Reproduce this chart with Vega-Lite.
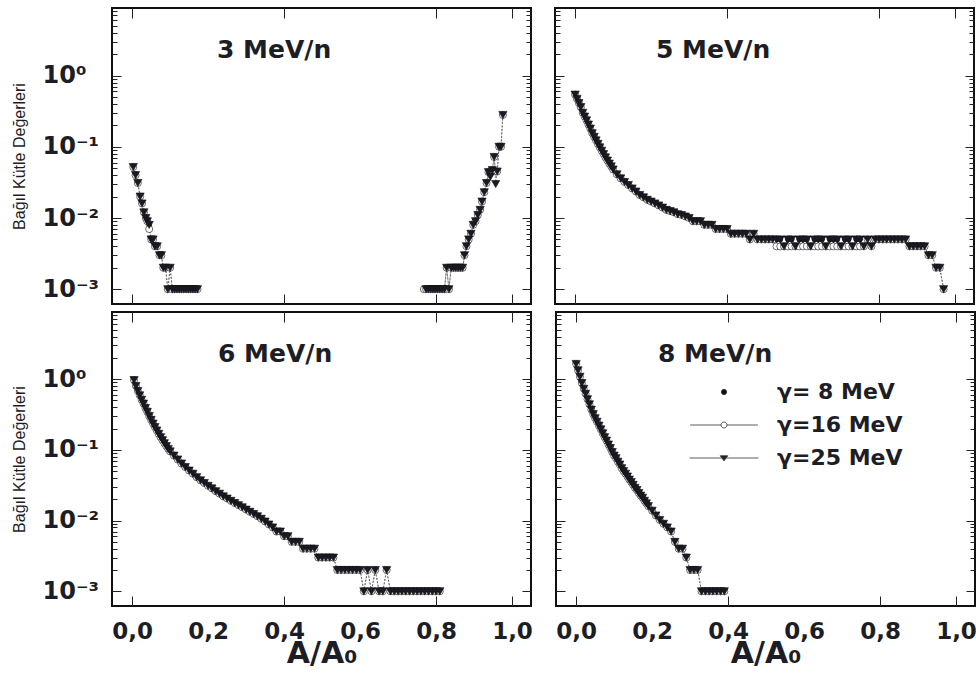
{
  "$schema": "https://vega.github.io/schema/vega-lite/v6.json",
  "padding": {"left": 10, "top": 6, "right": 0, "bottom": 2},
  "background": "white",
  "config": {
    "view": {"stroke": "#111", "strokeWidth": 2},
    "axis": {"domain": false, "grid": false, "tickColor": "#222", "tickWidth": 1},
    "font": "DejaVu Sans"
  },
  "datasets": {
    "d3": [
      {"g":"a","x":0.003,"s1":0.052,"s2":0.052,"s3":0.052},
      {"g":"a","x":0.009,"s1":0.040,"s2":0.040,"s3":0.040},
      {"g":"a","x":0.015,"s1":0.031,"s2":0.031,"s3":0.031},
      {"g":"a","x":0.021,"s1":0.020,"s2":0.020,"s3":0.020},
      {"g":"a","x":0.026,"s1":0.016,"s2":0.016,"s3":0.016},
      {"g":"a","x":0.031,"s1":0.012,"s2":0.012,"s3":0.012},
      {"g":"a","x":0.036,"s1":0.010,"s2":0.010,"s3":0.010},
      {"g":"a","x":0.040,"s1":0.009,"s2":0.009,"s3":0.009},
      {"g":"a","x":0.045,"s1":0.008,"s2":0.007,"s3":0.008},
      {"g":"a","x":0.050,"s1":0.005,"s2":0.005,"s3":0.005},
      {"g":"a","x":0.055,"s1":0.005,"s2":0.005,"s3":0.005},
      {"g":"a","x":0.060,"s1":0.004,"s2":0.004,"s3":0.004},
      {"g":"a","x":0.066,"s1":0.004,"s2":0.004,"s3":0.004},
      {"g":"a","x":0.072,"s1":0.003,"s2":0.003,"s3":0.003},
      {"g":"a","x":0.077,"s1":0.003,"s2":0.003,"s3":0.003},
      {"g":"a","x":0.082,"s1":0.002,"s2":0.002,"s3":0.002},
      {"g":"a","x":0.088,"s1":0.002,"s2":0.002,"s3":0.002},
      {"g":"a","x":0.094,"s1":0.001,"s2":0.001,"s3":0.001},
      {"g":"a","x":0.100,"s1":0.002,"s2":0.002,"s3":0.002},
      {"g":"a","x":0.106,"s1":0.001,"s2":0.001,"s3":0.001},
      {"g":"a","x":0.112,"s1":0.001,"s2":0.001,"s3":0.001},
      {"g":"a","x":0.118,"s1":0.001,"s2":0.001,"s3":0.001},
      {"g":"a","x":0.124,"s1":0.001,"s2":0.001,"s3":0.001},
      {"g":"a","x":0.130,"s1":0.001,"s2":0.001,"s3":0.001},
      {"g":"a","x":0.136,"s1":0.001,"s2":0.001,"s3":0.001},
      {"g":"a","x":0.142,"s1":0.001,"s2":0.001,"s3":0.001},
      {"g":"a","x":0.148,"s1":0.001,"s2":0.001,"s3":0.001},
      {"g":"a","x":0.154,"s1":0.001,"s2":0.001,"s3":0.001},
      {"g":"a","x":0.160,"s1":0.001,"s2":0.001,"s3":0.001},
      {"g":"a","x":0.166,"s1":0.001,"s2":0.001,"s3":0.001},
      {"g":"a","x":0.172,"s1":0.001,"s2":0.001,"s3":0.001},
      {"g":"b","x":0.768,"s2":0.001},
      {"g":"b","x":0.774,"s1":0.001,"s2":0.001,"s3":0.001},
      {"g":"b","x":0.780,"s1":0.001,"s2":0.001,"s3":0.001},
      {"g":"b","x":0.786,"s1":0.001,"s2":0.001,"s3":0.001},
      {"g":"b","x":0.792,"s1":0.001,"s2":0.001,"s3":0.001},
      {"g":"b","x":0.798,"s1":0.001,"s2":0.001,"s3":0.001},
      {"g":"b","x":0.804,"s1":0.001,"s2":0.001,"s3":0.001},
      {"g":"b","x":0.810,"s1":0.001,"s2":0.001,"s3":0.001},
      {"g":"b","x":0.816,"s1":0.001,"s2":0.001,"s3":0.001},
      {"g":"b","x":0.822,"s1":0.001,"s2":0.001,"s3":0.001},
      {"g":"b","x":0.828,"s1":0.002,"s2":0.002,"s3":0.002},
      {"g":"b","x":0.834,"s1":0.001,"s2":0.001,"s3":0.001},
      {"g":"b","x":0.840,"s1":0.002,"s2":0.002,"s3":0.002},
      {"g":"b","x":0.846,"s1":0.002,"s2":0.002,"s3":0.002},
      {"g":"b","x":0.852,"s1":0.002,"s2":0.002,"s3":0.002},
      {"g":"b","x":0.858,"s1":0.002,"s2":0.002,"s3":0.002},
      {"g":"b","x":0.864,"s1":0.002,"s2":0.002,"s3":0.002},
      {"g":"b","x":0.870,"s1":0.002,"s2":0.002,"s3":0.002},
      {"g":"b","x":0.875,"s1":0.003,"s2":0.003,"s3":0.003},
      {"g":"b","x":0.880,"s1":0.004,"s2":0.004,"s3":0.004},
      {"g":"b","x":0.886,"s1":0.005,"s2":0.005,"s3":0.005},
      {"g":"b","x":0.892,"s1":0.006,"s2":0.006,"s3":0.006},
      {"g":"b","x":0.898,"s1":0.008,"s2":0.008,"s3":0.008},
      {"g":"b","x":0.904,"s1":0.009,"s2":0.009,"s3":0.009},
      {"g":"b","x":0.910,"s1":0.011,"s2":0.011,"s3":0.011},
      {"g":"b","x":0.916,"s1":0.013,"s2":0.013,"s3":0.013},
      {"g":"b","x":0.921,"s1":0.017,"s2":0.017,"s3":0.017},
      {"g":"b","x":0.927,"s1":0.023,"s2":0.023,"s3":0.023},
      {"g":"b","x":0.933,"s1":0.031,"s2":0.031,"s3":0.031},
      {"g":"b","x":0.938,"s1":0.044,"s2":0.044,"s3":0.044},
      {"g":"b","x":0.943,"s1":0.044,"s2":0.044,"s3":0.038},
      {"g":"b","x":0.948,"s1":0.047,"s2":0.047,"s3":0.047},
      {"g":"b","x":0.953,"s1":0.072,"s2":0.072,"s3":0.072},
      {"g":"b","x":0.957,"s1":0.045,"s2":0.045,"s3":0.030},
      {"g":"b","x":0.961,"s1":0.045,"s2":0.045,"s3":0.045},
      {"g":"b","x":0.966,"s1":0.10,"s2":0.10,"s3":0.10},
      {"g":"b","x":0.971,"s1":0.10,"s2":0.10,"s3":0.10},
      {"g":"b","x":0.976,"s1":0.28,"s2":0.28,"s3":0.28}
    ],
    "d5": [
      {"x":0.000,"s1":0.54,"s2":0.54,"s3":0.54},
      {"x":0.005,"s1":0.47,"s2":0.47,"s3":0.47},
      {"x":0.010,"s1":0.41,"s2":0.41,"s3":0.41},
      {"x":0.015,"s1":0.36,"s2":0.36,"s3":0.36},
      {"x":0.020,"s1":0.30,"s2":0.30,"s3":0.30},
      {"x":0.025,"s1":0.265,"s2":0.265,"s3":0.265},
      {"x":0.030,"s1":0.235,"s2":0.235,"s3":0.235},
      {"x":0.035,"s1":0.205,"s2":0.205,"s3":0.205},
      {"x":0.040,"s1":0.18,"s2":0.18,"s3":0.18},
      {"x":0.045,"s1":0.155,"s2":0.155,"s3":0.155},
      {"x":0.050,"s1":0.138,"s2":0.138,"s3":0.138},
      {"x":0.055,"s1":0.123,"s2":0.123,"s3":0.123},
      {"x":0.060,"s1":0.110,"s2":0.110,"s3":0.110},
      {"x":0.065,"s1":0.098,"s2":0.098,"s3":0.098},
      {"x":0.070,"s1":0.088,"s2":0.088,"s3":0.088},
      {"x":0.075,"s1":0.079,"s2":0.079,"s3":0.079},
      {"x":0.080,"s1":0.071,"s2":0.071,"s3":0.071},
      {"x":0.085,"s1":0.064,"s2":0.064,"s3":0.064},
      {"x":0.090,"s1":0.058,"s2":0.058,"s3":0.058},
      {"x":0.095,"s1":0.053,"s2":0.053,"s3":0.053},
      {"x":0.100,"s1":0.048,"s2":0.048,"s3":0.048},
      {"x":0.11,"s1":0.041,"s2":0.041,"s3":0.041},
      {"x":0.12,"s1":0.036,"s2":0.036,"s3":0.036},
      {"x":0.13,"s1":0.032,"s2":0.032,"s3":0.032},
      {"x":0.14,"s1":0.029,"s2":0.029,"s3":0.029},
      {"x":0.15,"s1":0.026,"s2":0.026,"s3":0.026},
      {"x":0.16,"s1":0.0235,"s2":0.0235,"s3":0.0235},
      {"x":0.17,"s1":0.021,"s2":0.021,"s3":0.021},
      {"x":0.18,"s1":0.0195,"s2":0.0195,"s3":0.0195},
      {"x":0.19,"s1":0.018,"s2":0.018,"s3":0.018},
      {"x":0.20,"s1":0.017,"s2":0.017,"s3":0.017},
      {"x":0.21,"s1":0.016,"s2":0.016,"s3":0.016},
      {"x":0.22,"s1":0.015,"s2":0.015,"s3":0.015},
      {"x":0.23,"s1":0.014,"s2":0.014,"s3":0.014},
      {"x":0.24,"s1":0.013,"s2":0.013,"s3":0.013},
      {"x":0.25,"s1":0.0125,"s2":0.0125,"s3":0.0125},
      {"x":0.26,"s1":0.012,"s2":0.012,"s3":0.012},
      {"x":0.27,"s1":0.0113,"s2":0.0113,"s3":0.0113},
      {"x":0.28,"s1":0.011,"s2":0.011,"s3":0.011},
      {"x":0.29,"s1":0.0105,"s2":0.0105,"s3":0.0105},
      {"x":0.30,"s1":0.010,"s2":0.010,"s3":0.010},
      {"x":0.31,"s1":0.009,"s2":0.009,"s3":0.009},
      {"x":0.32,"s1":0.009,"s2":0.009,"s3":0.009},
      {"x":0.33,"s1":0.009,"s2":0.009,"s3":0.009},
      {"x":0.34,"s1":0.008,"s2":0.008,"s3":0.008},
      {"x":0.35,"s1":0.008,"s2":0.008,"s3":0.008},
      {"x":0.36,"s1":0.008,"s2":0.008,"s3":0.008},
      {"x":0.37,"s1":0.007,"s2":0.007,"s3":0.007},
      {"x":0.38,"s1":0.007,"s2":0.007,"s3":0.007},
      {"x":0.39,"s1":0.007,"s2":0.007,"s3":0.007},
      {"x":0.40,"s1":0.007,"s2":0.007,"s3":0.007},
      {"x":0.41,"s1":0.006,"s2":0.006,"s3":0.006},
      {"x":0.42,"s1":0.006,"s2":0.006,"s3":0.006},
      {"x":0.43,"s1":0.006,"s2":0.006,"s3":0.006},
      {"x":0.44,"s1":0.006,"s2":0.006,"s3":0.006},
      {"x":0.45,"s1":0.006,"s2":0.006,"s3":0.006},
      {"x":0.46,"s1":0.005,"s2":0.005,"s3":0.005},
      {"x":0.47,"s1":0.006,"s2":0.006,"s3":0.006},
      {"x":0.48,"s1":0.005,"s2":0.005,"s3":0.005},
      {"x":0.49,"s1":0.005,"s2":0.005,"s3":0.005},
      {"x":0.50,"s1":0.005,"s2":0.005,"s3":0.005},
      {"x":0.51,"s1":0.005,"s2":0.005,"s3":0.005},
      {"x":0.52,"s1":0.005,"s2":0.005,"s3":0.005},
      {"x":0.53,"s1":0.005,"s2":0.004,"s3":0.005},
      {"x":0.54,"s1":0.005,"s2":0.004,"s3":0.005},
      {"x":0.55,"s1":0.004,"s2":0.004,"s3":0.004},
      {"x":0.56,"s1":0.005,"s2":0.004,"s3":0.005},
      {"x":0.57,"s1":0.005,"s2":0.004,"s3":0.005},
      {"x":0.58,"s1":0.004,"s2":0.004,"s3":0.004},
      {"x":0.59,"s1":0.005,"s2":0.004,"s3":0.005},
      {"x":0.60,"s1":0.005,"s2":0.004,"s3":0.005},
      {"x":0.61,"s1":0.005,"s2":0.004,"s3":0.005},
      {"x":0.62,"s1":0.004,"s2":0.004,"s3":0.004},
      {"x":0.63,"s1":0.005,"s2":0.004,"s3":0.005},
      {"x":0.64,"s1":0.005,"s2":0.004,"s3":0.005},
      {"x":0.65,"s1":0.005,"s2":0.004,"s3":0.005},
      {"x":0.66,"s1":0.004,"s2":0.004,"s3":0.004},
      {"x":0.67,"s1":0.005,"s2":0.004,"s3":0.005},
      {"x":0.68,"s1":0.005,"s2":0.004,"s3":0.005},
      {"x":0.69,"s1":0.005,"s2":0.004,"s3":0.005},
      {"x":0.70,"s1":0.004,"s2":0.004,"s3":0.004},
      {"x":0.71,"s1":0.005,"s2":0.004,"s3":0.005},
      {"x":0.72,"s1":0.005,"s2":0.004,"s3":0.005},
      {"x":0.73,"s1":0.004,"s2":0.004,"s3":0.004},
      {"x":0.74,"s1":0.005,"s2":0.004,"s3":0.005},
      {"x":0.75,"s1":0.005,"s2":0.004,"s3":0.005},
      {"x":0.76,"s1":0.004,"s2":0.004,"s3":0.004},
      {"x":0.77,"s1":0.005,"s2":0.005,"s3":0.005},
      {"x":0.78,"s1":0.004,"s2":0.004,"s3":0.004},
      {"x":0.79,"s1":0.005,"s2":0.005,"s3":0.005},
      {"x":0.80,"s1":0.005,"s2":0.005,"s3":0.005},
      {"x":0.81,"s1":0.005,"s2":0.005,"s3":0.005},
      {"x":0.82,"s1":0.005,"s2":0.005,"s3":0.005},
      {"x":0.83,"s1":0.005,"s2":0.005,"s3":0.005},
      {"x":0.84,"s1":0.005,"s2":0.005,"s3":0.005},
      {"x":0.85,"s1":0.005,"s2":0.005,"s3":0.005},
      {"x":0.86,"s1":0.005,"s2":0.005,"s3":0.005},
      {"x":0.87,"s1":0.005,"s2":0.005,"s3":0.005},
      {"x":0.88,"s1":0.004,"s2":0.004,"s3":0.004},
      {"x":0.89,"s1":0.004,"s2":0.004,"s3":0.004},
      {"x":0.90,"s1":0.004,"s2":0.004,"s3":0.004},
      {"x":0.91,"s1":0.004,"s2":0.004,"s3":0.004},
      {"x":0.92,"s1":0.004,"s2":0.004,"s3":0.004},
      {"x":0.93,"s1":0.003,"s2":0.003,"s3":0.003},
      {"x":0.94,"s1":0.003,"s2":0.003,"s3":0.003},
      {"x":0.95,"s1":0.002,"s2":0.002,"s3":0.002},
      {"x":0.96,"s1":0.002,"s2":0.002,"s3":0.002},
      {"x":0.97,"s1":0.001,"s2":0.001,"s3":0.001}
    ],
    "d6": [
      {"x":0.005,"s1":0.97,"s2":0.97,"s3":0.97},
      {"x":0.010,"s1":0.80,"s2":0.80,"s3":0.80},
      {"x":0.015,"s1":0.68,"s2":0.68,"s3":0.68},
      {"x":0.020,"s1":0.59,"s2":0.59,"s3":0.59},
      {"x":0.025,"s1":0.51,"s2":0.51,"s3":0.51},
      {"x":0.030,"s1":0.45,"s2":0.45,"s3":0.45},
      {"x":0.035,"s1":0.39,"s2":0.39,"s3":0.39},
      {"x":0.040,"s1":0.345,"s2":0.345,"s3":0.345},
      {"x":0.045,"s1":0.30,"s2":0.30,"s3":0.30},
      {"x":0.050,"s1":0.265,"s2":0.265,"s3":0.265},
      {"x":0.055,"s1":0.235,"s2":0.235,"s3":0.235},
      {"x":0.060,"s1":0.21,"s2":0.21,"s3":0.21},
      {"x":0.065,"s1":0.188,"s2":0.188,"s3":0.188},
      {"x":0.070,"s1":0.168,"s2":0.168,"s3":0.168},
      {"x":0.075,"s1":0.151,"s2":0.151,"s3":0.151},
      {"x":0.080,"s1":0.137,"s2":0.137,"s3":0.137},
      {"x":0.085,"s1":0.124,"s2":0.124,"s3":0.124},
      {"x":0.090,"s1":0.113,"s2":0.113,"s3":0.113},
      {"x":0.095,"s1":0.103,"s2":0.103,"s3":0.103},
      {"x":0.100,"s1":0.095,"s2":0.095,"s3":0.095},
      {"x":0.11,"s1":0.083,"s2":0.083,"s3":0.083},
      {"x":0.12,"s1":0.073,"s2":0.073,"s3":0.073},
      {"x":0.13,"s1":0.064,"s2":0.064,"s3":0.064},
      {"x":0.14,"s1":0.057,"s2":0.057,"s3":0.057},
      {"x":0.15,"s1":0.051,"s2":0.051,"s3":0.051},
      {"x":0.16,"s1":0.046,"s2":0.046,"s3":0.046},
      {"x":0.17,"s1":0.041,"s2":0.041,"s3":0.041},
      {"x":0.18,"s1":0.037,"s2":0.037,"s3":0.037},
      {"x":0.19,"s1":0.034,"s2":0.034,"s3":0.034},
      {"x":0.20,"s1":0.031,"s2":0.031,"s3":0.031},
      {"x":0.21,"s1":0.0285,"s2":0.0285,"s3":0.0285},
      {"x":0.22,"s1":0.026,"s2":0.026,"s3":0.026},
      {"x":0.23,"s1":0.024,"s2":0.024,"s3":0.024},
      {"x":0.24,"s1":0.022,"s2":0.022,"s3":0.022},
      {"x":0.25,"s1":0.0205,"s2":0.0205,"s3":0.0205},
      {"x":0.26,"s1":0.019,"s2":0.019,"s3":0.019},
      {"x":0.27,"s1":0.0177,"s2":0.0177,"s3":0.0177},
      {"x":0.28,"s1":0.0165,"s2":0.0165,"s3":0.0165},
      {"x":0.29,"s1":0.0154,"s2":0.0154,"s3":0.0154},
      {"x":0.30,"s1":0.0143,"s2":0.0143,"s3":0.0143},
      {"x":0.31,"s1":0.0133,"s2":0.0133,"s3":0.0133},
      {"x":0.32,"s1":0.0124,"s2":0.0124,"s3":0.0124},
      {"x":0.33,"s1":0.0115,"s2":0.0115,"s3":0.0115},
      {"x":0.34,"s1":0.0106,"s2":0.0106,"s3":0.0106},
      {"x":0.35,"s1":0.0097,"s2":0.0097,"s3":0.0097},
      {"x":0.36,"s1":0.0088,"s2":0.0088,"s3":0.0088},
      {"x":0.37,"s1":0.008,"s2":0.008,"s3":0.008},
      {"x":0.38,"s1":0.007,"s2":0.007,"s3":0.007},
      {"x":0.39,"s1":0.007,"s2":0.007,"s3":0.007},
      {"x":0.40,"s1":0.006,"s2":0.006,"s3":0.006},
      {"x":0.41,"s1":0.006,"s2":0.006,"s3":0.006},
      {"x":0.42,"s1":0.005,"s2":0.005,"s3":0.005},
      {"x":0.43,"s1":0.005,"s2":0.005,"s3":0.005},
      {"x":0.44,"s1":0.005,"s2":0.005,"s3":0.005},
      {"x":0.45,"s1":0.004,"s2":0.004,"s3":0.004},
      {"x":0.46,"s1":0.004,"s2":0.004,"s3":0.004},
      {"x":0.47,"s1":0.004,"s2":0.004,"s3":0.004},
      {"x":0.48,"s1":0.004,"s2":0.004,"s3":0.004},
      {"x":0.49,"s1":0.003,"s2":0.003,"s3":0.003},
      {"x":0.50,"s1":0.003,"s2":0.003,"s3":0.003},
      {"x":0.51,"s1":0.003,"s2":0.003,"s3":0.003},
      {"x":0.52,"s1":0.003,"s2":0.003,"s3":0.003},
      {"x":0.53,"s1":0.003,"s2":0.003,"s3":0.003},
      {"x":0.54,"s1":0.002,"s2":0.002,"s3":0.002},
      {"x":0.55,"s1":0.002,"s2":0.002,"s3":0.002},
      {"x":0.56,"s1":0.002,"s2":0.002,"s3":0.002},
      {"x":0.57,"s1":0.002,"s2":0.002,"s3":0.002},
      {"x":0.58,"s1":0.002,"s2":0.002,"s3":0.002},
      {"x":0.59,"s1":0.002,"s2":0.002,"s3":0.002},
      {"x":0.60,"s1":0.002,"s2":0.002,"s3":0.002},
      {"x":0.61,"s1":0.001,"s2":0.001,"s3":0.001},
      {"x":0.62,"s1":0.002,"s2":0.002,"s3":0.002},
      {"x":0.63,"s1":0.001,"s2":0.001,"s3":0.001},
      {"x":0.64,"s1":0.002,"s2":0.002,"s3":0.002},
      {"x":0.65,"s1":0.001,"s2":0.001,"s3":0.001},
      {"x":0.66,"s1":0.001,"s2":0.001,"s3":0.001},
      {"x":0.67,"s1":0.002,"s2":0.002,"s3":0.002},
      {"x":0.68,"s1":0.001,"s2":0.001,"s3":0.001},
      {"x":0.69,"s1":0.001,"s2":0.001,"s3":0.001},
      {"x":0.70,"s1":0.001,"s2":0.001,"s3":0.001},
      {"x":0.71,"s1":0.001,"s2":0.001,"s3":0.001},
      {"x":0.72,"s1":0.001,"s2":0.001,"s3":0.001},
      {"x":0.73,"s1":0.001,"s2":0.001,"s3":0.001},
      {"x":0.74,"s1":0.001,"s2":0.001,"s3":0.001},
      {"x":0.75,"s1":0.001,"s2":0.001,"s3":0.001},
      {"x":0.76,"s1":0.001,"s2":0.001,"s3":0.001},
      {"x":0.77,"s1":0.001,"s2":0.001,"s3":0.001},
      {"x":0.78,"s1":0.001,"s2":0.001,"s3":0.001},
      {"x":0.79,"s1":0.001,"s2":0.001,"s3":0.001},
      {"x":0.80,"s1":0.001,"s2":0.001,"s3":0.001},
      {"x":0.81,"s1":0.001,"s2":0.001,"s3":0.001}
    ],
    "d8": [
      {"x":0.000,"s1":1.64,"s2":1.64,"s3":1.64},
      {"x":0.005,"s1":1.33,"s2":1.33,"s3":1.33},
      {"x":0.010,"s1":1.08,"s2":1.08,"s3":1.08},
      {"x":0.015,"s1":0.88,"s2":0.88,"s3":0.88},
      {"x":0.020,"s1":0.73,"s2":0.73,"s3":0.73},
      {"x":0.025,"s1":0.62,"s2":0.62,"s3":0.62},
      {"x":0.030,"s1":0.52,"s2":0.52,"s3":0.52},
      {"x":0.035,"s1":0.44,"s2":0.44,"s3":0.44},
      {"x":0.040,"s1":0.37,"s2":0.37,"s3":0.37},
      {"x":0.045,"s1":0.32,"s2":0.32,"s3":0.32},
      {"x":0.050,"s1":0.28,"s2":0.28,"s3":0.28},
      {"x":0.055,"s1":0.25,"s2":0.25,"s3":0.25},
      {"x":0.060,"s1":0.22,"s2":0.22,"s3":0.22},
      {"x":0.065,"s1":0.195,"s2":0.195,"s3":0.195},
      {"x":0.070,"s1":0.171,"s2":0.171,"s3":0.171},
      {"x":0.075,"s1":0.151,"s2":0.151,"s3":0.151},
      {"x":0.080,"s1":0.135,"s2":0.135,"s3":0.135},
      {"x":0.085,"s1":0.119,"s2":0.119,"s3":0.119},
      {"x":0.090,"s1":0.106,"s2":0.106,"s3":0.106},
      {"x":0.095,"s1":0.093,"s2":0.093,"s3":0.093},
      {"x":0.100,"s1":0.083,"s2":0.083,"s3":0.083},
      {"x":0.105,"s1":0.076,"s2":0.076,"s3":0.076},
      {"x":0.110,"s1":0.068,"s2":0.068,"s3":0.068},
      {"x":0.115,"s1":0.062,"s2":0.062,"s3":0.062},
      {"x":0.120,"s1":0.055,"s2":0.055,"s3":0.055},
      {"x":0.125,"s1":0.050,"s2":0.050,"s3":0.050},
      {"x":0.130,"s1":0.046,"s2":0.046,"s3":0.046},
      {"x":0.135,"s1":0.042,"s2":0.042,"s3":0.042},
      {"x":0.140,"s1":0.038,"s2":0.038,"s3":0.038},
      {"x":0.145,"s1":0.035,"s2":0.035,"s3":0.035},
      {"x":0.150,"s1":0.032,"s2":0.032,"s3":0.032},
      {"x":0.155,"s1":0.029,"s2":0.029,"s3":0.029},
      {"x":0.160,"s1":0.027,"s2":0.027,"s3":0.027},
      {"x":0.165,"s1":0.0245,"s2":0.0245,"s3":0.0245},
      {"x":0.170,"s1":0.0225,"s2":0.0225,"s3":0.0225},
      {"x":0.175,"s1":0.021,"s2":0.021,"s3":0.021},
      {"x":0.180,"s1":0.019,"s2":0.019,"s3":0.019},
      {"x":0.185,"s1":0.0175,"s2":0.0175,"s3":0.0175},
      {"x":0.19,"s1":0.016,"s2":0.016,"s3":0.016},
      {"x":0.20,"s1":0.0138,"s2":0.0138,"s3":0.0138},
      {"x":0.21,"s1":0.0118,"s2":0.0118,"s3":0.0118},
      {"x":0.22,"s1":0.0102,"s2":0.0102,"s3":0.0102},
      {"x":0.23,"s1":0.009,"s2":0.009,"s3":0.009},
      {"x":0.24,"s1":0.008,"s2":0.008,"s3":0.008},
      {"x":0.25,"s1":0.007,"s2":0.007,"s3":0.007},
      {"x":0.26,"s1":0.005,"s2":0.005,"s3":0.005},
      {"x":0.27,"s1":0.004,"s2":0.004,"s3":0.004},
      {"x":0.28,"s1":0.004,"s2":0.004,"s3":0.004},
      {"x":0.29,"s1":0.003,"s2":0.003,"s3":0.003},
      {"x":0.30,"s1":0.002,"s2":0.002,"s3":0.002},
      {"x":0.31,"s1":0.002,"s2":0.002,"s3":0.002},
      {"x":0.32,"s1":0.002,"s2":0.002,"s3":0.002},
      {"x":0.33,"s1":0.001,"s2":0.001,"s3":0.001},
      {"x":0.34,"s1":0.001,"s2":0.001,"s3":0.001},
      {"x":0.35,"s1":0.001,"s2":0.001,"s3":0.001},
      {"x":0.36,"s1":0.001,"s2":0.001,"s3":0.001},
      {"x":0.37,"s1":0.001,"s2":0.001,"s3":0.001},
      {"x":0.38,"s1":0.001,"s2":0.001,"s3":0.001},
      {"x":0.39,"s1":0.001,"s2":0.001,"s3":0.001}
    ]
  },
  "spacing": 4,
  "vconcat": [
    {
      "spacing": 20,
      "hconcat": [
        {
          "width": 419, "height": 296,
          "title": {"text": "3 MeV/n", "anchor": "start", "frame": "group", "offset": -55, "dx": 105, "font": "DejaVu Sans", "fontSize": 25, "fontWeight": "bold", "color": "#1d1d26"},
          "data": {"name": "d3"},
          "resolve": {"axis": {"x": "independent", "y": "independent"}},
          "layer": [
            {"mark": {"type": "line", "strokeWidth": 0.7, "color": "#555", "strokeDash": [2, 1.5]},
             "encoding": {
               "x": {"field": "x", "type": "quantitative", "scale": {"domain": [-0.053, 1.05], "nice": false, "zero": false}, "axis": {"orient": "top", "values": [0, 0.4, 0.8, 1], "labels": false, "title": null, "tickSize": -10}},
               "y": {"field": "s2", "type": "quantitative", "scale": {"type": "log", "domain": [0.00062, 8.9], "nice": false}, "axis": {"orient": "right", "values": [0.001,0.002,0.003,0.004,0.005,0.006,0.007,0.008,0.009,0.01,0.02,0.03,0.04,0.05,0.06,0.07,0.08,0.09,0.1,0.2,0.3,0.4,0.5,0.6,0.7,0.8,0.9,1,2,3,4,5,6,7,8], "labels": false, "title": null, "tickSize": {"condition": {"test": "datum.value === 0.001 || datum.value === 0.01 || datum.value === 0.1 || datum.value === 1", "value": -9}, "value": -5}}},
               "detail": {"field": "g"}}},
            {"mark": {"type": "line", "strokeWidth": 0.7, "color": "#555", "strokeDash": [2, 1.5]},
             "encoding": {
               "x": {"field": "x", "type": "quantitative", "scale": {"domain": [-0.053, 1.05], "nice": false, "zero": false}, "axis": null},
               "y": {"field": "s3", "type": "quantitative", "scale": {"type": "log", "domain": [0.00062, 8.9], "nice": false}, "axis": {"orient": "left", "values": [2,3,4,5,6,7,8], "labels": false, "title": null, "tickSize": -5}},
               "detail": {"field": "g"}}},
            {"transform": [{"fold": ["s1", "s2", "s3"], "as": ["key", "v"]}],
             "mark": {"type": "point", "filled": true, "stroke": "#111", "strokeWidth": 0.6, "opacity": 1},
             "encoding": {
               "x": {"field": "x", "type": "quantitative", "scale": {"domain": [-0.053, 1.05], "nice": false, "zero": false}, "axis": {"orient": "bottom", "values": [0, 0.4, 0.8, 1], "labels": false, "title": null, "tickSize": -10}},
               "y": {"field": "v", "type": "quantitative", "scale": {"type": "log", "domain": [0.00062, 8.9], "nice": false},
                     "axis": {"orient": "left", "values": [0.001,0.002,0.003,0.004,0.005,0.006,0.007,0.008,0.009,0.01,0.02,0.03,0.04,0.05,0.06,0.07,0.08,0.09,0.1,0.2,0.3,0.4,0.5,0.6,0.7,0.8,0.9,1],
                              "tickSize": {"condition": {"test": "datum.value === 0.001 || datum.value === 0.01 || datum.value === 0.1 || datum.value === 1", "value": -9}, "value": -5},
                              "labelExpr": "datum.value === 1 ? '10⁰' : datum.value === 0.1 ? '10⁻¹' : datum.value === 0.01 ? '10⁻²' : datum.value === 0.001 ? '10⁻³' : ''",
                              "labelAlign": "left", "labelPadding": 79, "labelOverlap": false, "labelFlush": false, "labelBound": false,
                              "labelFont": "DejaVu Sans", "labelFontSize": 24, "labelFontWeight": "bold", "labelColor": "#1d1d26",
                              "title": "Bağıl Kütle Değerleri", "titleFont": "Liberation Sans Narrow, Liberation Sans", "titleFontSize": 16, "titleFontWeight": "normal", "titleColor": "#1d1d26", "titlePadding": 11}},
               "shape": {"field": "key", "type": "nominal", "scale": {"domain": ["s1", "s2", "s3", "s0"], "range": ["circle", "circle", "triangle-down", "circle"]}, "legend": null},
               "fill": {"field": "key", "type": "nominal", "scale": {"domain": ["s1", "s2", "s3"], "range": ["#111111", "#ffffff", "#1a1a24"]},
                        "legend": {"orient": "none", "legendX": 601, "legendY": 373, "title": null, "padding": 0,
                                   "labelExpr": "datum.label === 's1' ? 'γ= 8 MeV' : datum.label === 's2' ? 'γ=16 MeV' : 'γ=25 MeV'",
                                   "labelFont": "DejaVu Sans", "labelFontSize": 22, "labelFontWeight": "bold", "labelColor": "#1d1d26", "labelOffset": 42,
                                   "rowPadding": 11, "symbolSize": 36,
                                   "encoding": {"symbols": {
                                     "shape": {"condition": [{"test": "datum.value === 's1'", "value": "M0.9,0A0.9,0.9 0 1,1 -0.9,0A0.9,0.9 0 1,1 0.9,0Z"}, {"test": "datum.value === 's2'", "value": "M-11.3,0H-1M1,0H11.3M1,0A1,1 0 1,1 -1,0A1,1 0 1,1 1,0Z"}], "value": "M-11.5,0H11.5M-1.25,-0.75H1.25L0,0.95Z"},
                                     "stroke": {"value": "#333"}, "strokeWidth": {"value": 0.8}}}}},
               "size": {"condition": [{"test": "datum.key === 's1'", "value": 25}, {"test": "datum.key === 's2'", "value": 50}], "value": 68},
               "order": {"field": "key", "type": "ordinal", "sort": "ascending"}}}
          ]
        },
        {
          "width": 419, "height": 296,
          "title": {"text": "5 MeV/n", "anchor": "start", "frame": "group", "offset": -55, "dx": 101, "font": "DejaVu Sans", "fontSize": 25, "fontWeight": "bold", "color": "#1d1d26"},
          "data": {"name": "d5"},
          "resolve": {"axis": {"x": "independent", "y": "independent"}},
          "layer": [
            {"mark": {"type": "line", "strokeWidth": 0.7, "color": "#555", "strokeDash": [2, 1.5]},
             "encoding": {
               "x": {"field": "x", "type": "quantitative", "scale": {"domain": [-0.053, 1.05], "nice": false, "zero": false}, "axis": {"orient": "top", "values": [0, 0.4, 0.8, 1], "labels": false, "title": null, "tickSize": -10}},
               "y": {"field": "s2", "type": "quantitative", "scale": {"type": "log", "domain": [0.00062, 8.9], "nice": false}, "axis": {"orient": "right", "values": [0.001,0.002,0.003,0.004,0.005,0.006,0.007,0.008,0.009,0.01,0.02,0.03,0.04,0.05,0.06,0.07,0.08,0.09,0.1,0.2,0.3,0.4,0.5,0.6,0.7,0.8,0.9,1,2,3,4,5,6,7,8], "labels": false, "title": null, "tickSize": {"condition": {"test": "datum.value === 0.001 || datum.value === 0.01 || datum.value === 0.1 || datum.value === 1", "value": -9}, "value": -5}}}}},
            {"mark": {"type": "line", "strokeWidth": 0.7, "color": "#555", "strokeDash": [2, 1.5]},
             "encoding": {
               "x": {"field": "x", "type": "quantitative", "scale": {"domain": [-0.053, 1.05], "nice": false, "zero": false}, "axis": null},
               "y": {"field": "s3", "type": "quantitative", "scale": {"type": "log", "domain": [0.00062, 8.9], "nice": false}, "axis": null}}},
            {"transform": [{"fold": ["s1", "s2", "s3"], "as": ["key", "v"]}],
             "mark": {"type": "point", "filled": true, "stroke": "#111", "strokeWidth": 0.6, "opacity": 1},
             "encoding": {
               "x": {"field": "x", "type": "quantitative", "scale": {"domain": [-0.053, 1.05], "nice": false, "zero": false}, "axis": {"orient": "bottom", "values": [0, 0.4, 0.8, 1], "labels": false, "title": null, "tickSize": -10}},
               "y": {"field": "v", "type": "quantitative", "scale": {"type": "log", "domain": [0.00062, 8.9], "nice": false},
                     "axis": {"orient": "left", "values": [0.001,0.002,0.003,0.004,0.005,0.006,0.007,0.008,0.009,0.01,0.02,0.03,0.04,0.05,0.06,0.07,0.08,0.09,0.1,0.2,0.3,0.4,0.5,0.6,0.7,0.8,0.9,1,2,3,4,5,6,7,8],
                              "tickSize": {"condition": {"test": "datum.value === 0.001 || datum.value === 0.01 || datum.value === 0.1 || datum.value === 1", "value": -9}, "value": -5},
                              "labels": false, "title": null}},
               "shape": {"field": "key", "type": "nominal", "scale": {"domain": ["s1", "s2", "s3", "s0"], "range": ["circle", "circle", "triangle-down", "circle"]}, "legend": null},
               "fill": {"field": "key", "type": "nominal", "scale": {"domain": ["s1", "s2", "s3"], "range": ["#111111", "#ffffff", "#1a1a24"]},
                        "legend": {"orient": "none", "legendX": 601, "legendY": 373, "title": null, "padding": 0,
                                   "labelExpr": "datum.label === 's1' ? 'γ= 8 MeV' : datum.label === 's2' ? 'γ=16 MeV' : 'γ=25 MeV'",
                                   "labelFont": "DejaVu Sans", "labelFontSize": 22, "labelFontWeight": "bold", "labelColor": "#1d1d26", "labelOffset": 42,
                                   "rowPadding": 11, "symbolSize": 36,
                                   "encoding": {"symbols": {
                                     "shape": {"condition": [{"test": "datum.value === 's1'", "value": "M0.9,0A0.9,0.9 0 1,1 -0.9,0A0.9,0.9 0 1,1 0.9,0Z"}, {"test": "datum.value === 's2'", "value": "M-11.3,0H-1M1,0H11.3M1,0A1,1 0 1,1 -1,0A1,1 0 1,1 1,0Z"}], "value": "M-11.5,0H11.5M-1.25,-0.75H1.25L0,0.95Z"},
                                     "stroke": {"value": "#333"}, "strokeWidth": {"value": 0.8}}}}},
               "size": {"condition": [{"test": "datum.key === 's1'", "value": 25}, {"test": "datum.key === 's2'", "value": 50}], "value": 68},
               "order": {"field": "key", "type": "ordinal", "sort": "ascending"}}}
          ]
        }
      ]
    },
    {
      "spacing": 20,
      "hconcat": [
        {
          "width": 419, "height": 294,
          "title": {"text": "6 MeV/n", "anchor": "start", "frame": "group", "offset": -55, "dx": 106, "font": "DejaVu Sans", "fontSize": 25, "fontWeight": "bold", "color": "#1d1d26"},
          "data": {"name": "d6"},
          "resolve": {"axis": {"x": "independent", "y": "independent"}},
          "layer": [
            {"mark": {"type": "line", "strokeWidth": 0.7, "color": "#555", "strokeDash": [2, 1.5]},
             "encoding": {
               "x": {"field": "x", "type": "quantitative", "scale": {"domain": [-0.053, 1.05], "nice": false, "zero": false}, "axis": {"orient": "top", "values": [0, 0.4, 0.8, 1], "labels": false, "title": null, "tickSize": -10}},
               "y": {"field": "s2", "type": "quantitative", "scale": {"type": "log", "domain": [0.00062, 8.9], "nice": false}, "axis": {"orient": "right", "values": [0.001,0.002,0.003,0.004,0.005,0.006,0.007,0.008,0.009,0.01,0.02,0.03,0.04,0.05,0.06,0.07,0.08,0.09,0.1,0.2,0.3,0.4,0.5,0.6,0.7,0.8,0.9,1,2,3,4,5,6,7,8], "labels": false, "title": null, "tickSize": {"condition": {"test": "datum.value === 0.001 || datum.value === 0.01 || datum.value === 0.1 || datum.value === 1", "value": -9}, "value": -5}}}}},
            {"mark": {"type": "line", "strokeWidth": 0.7, "color": "#555", "strokeDash": [2, 1.5]},
             "encoding": {
               "x": {"field": "x", "type": "quantitative", "scale": {"domain": [-0.053, 1.05], "nice": false, "zero": false}, "axis": null},
               "y": {"field": "s3", "type": "quantitative", "scale": {"type": "log", "domain": [0.00062, 8.9], "nice": false}, "axis": {"orient": "left", "values": [2,3,4,5,6,7,8], "labels": false, "title": null, "tickSize": -5}}}},
            {"transform": [{"fold": ["s1", "s2", "s3"], "as": ["key", "v"]}],
             "mark": {"type": "point", "filled": true, "stroke": "#111", "strokeWidth": 0.6, "opacity": 1},
             "encoding": {
               "x": {"field": "x", "type": "quantitative", "scale": {"domain": [-0.053, 1.05], "nice": false, "zero": false},
                     "axis": {"orient": "bottom", "values": [0, 0.2, 0.4, 0.6, 0.8, 1], "tickSize": -10,
                              "tickOpacity": {"condition": {"test": "datum.value === 0.2 || datum.value === 0.6", "value": 0}, "value": 1},
                              "labelExpr": "replace(format(datum.value, '.1f'), '.', ',')", "labelFont": "DejaVu Sans", "labelFontSize": 23, "labelFontWeight": "bold", "labelColor": "#1d1d26", "labelPadding": 24, "labelFlush": false, "labelOverlap": false,
                              "title": "A/A₀", "titleFont": "DejaVu Sans", "titleFontSize": 30, "titleFontWeight": "bold", "titleColor": "#1d1d26", "titlePadding": -5}},
               "y": {"field": "v", "type": "quantitative", "scale": {"type": "log", "domain": [0.00062, 8.9], "nice": false},
                     "axis": {"orient": "left", "values": [0.001,0.002,0.003,0.004,0.005,0.006,0.007,0.008,0.009,0.01,0.02,0.03,0.04,0.05,0.06,0.07,0.08,0.09,0.1,0.2,0.3,0.4,0.5,0.6,0.7,0.8,0.9,1],
                              "tickSize": {"condition": {"test": "datum.value === 0.001 || datum.value === 0.01 || datum.value === 0.1 || datum.value === 1", "value": -9}, "value": -5},
                              "labelExpr": "datum.value === 1 ? '10⁰' : datum.value === 0.1 ? '10⁻¹' : datum.value === 0.01 ? '10⁻²' : datum.value === 0.001 ? '10⁻³' : ''",
                              "labelAlign": "left", "labelPadding": 79, "labelOverlap": false, "labelFlush": false, "labelBound": false,
                              "labelFont": "DejaVu Sans", "labelFontSize": 24, "labelFontWeight": "bold", "labelColor": "#1d1d26",
                              "title": "Bağıl Kütle Değerleri", "titleFont": "Liberation Sans Narrow, Liberation Sans", "titleFontSize": 16, "titleFontWeight": "normal", "titleColor": "#1d1d26", "titlePadding": 11}},
               "shape": {"field": "key", "type": "nominal", "scale": {"domain": ["s1", "s2", "s3", "s0"], "range": ["circle", "circle", "triangle-down", "circle"]}, "legend": null},
               "fill": {"field": "key", "type": "nominal", "scale": {"domain": ["s1", "s2", "s3"], "range": ["#111111", "#ffffff", "#1a1a24"]},
                        "legend": {"orient": "none", "legendX": 601, "legendY": 373, "title": null, "padding": 0,
                                   "labelExpr": "datum.label === 's1' ? 'γ= 8 MeV' : datum.label === 's2' ? 'γ=16 MeV' : 'γ=25 MeV'",
                                   "labelFont": "DejaVu Sans", "labelFontSize": 22, "labelFontWeight": "bold", "labelColor": "#1d1d26", "labelOffset": 42,
                                   "rowPadding": 11, "symbolSize": 36,
                                   "encoding": {"symbols": {
                                     "shape": {"condition": [{"test": "datum.value === 's1'", "value": "M0.9,0A0.9,0.9 0 1,1 -0.9,0A0.9,0.9 0 1,1 0.9,0Z"}, {"test": "datum.value === 's2'", "value": "M-11.3,0H-1M1,0H11.3M1,0A1,1 0 1,1 -1,0A1,1 0 1,1 1,0Z"}], "value": "M-11.5,0H11.5M-1.25,-0.75H1.25L0,0.95Z"},
                                     "stroke": {"value": "#333"}, "strokeWidth": {"value": 0.8}}}}},
               "size": {"condition": [{"test": "datum.key === 's1'", "value": 25}, {"test": "datum.key === 's2'", "value": 50}], "value": 68},
               "order": {"field": "key", "type": "ordinal", "sort": "ascending"}}}
          ]
        },
        {
          "width": 419, "height": 294,
          "title": {"text": "8 MeV/n", "anchor": "start", "frame": "group", "offset": -55, "dx": 102, "font": "DejaVu Sans", "fontSize": 25, "fontWeight": "bold", "color": "#1d1d26"},
          "data": {"name": "d8"},
          "resolve": {"axis": {"x": "independent", "y": "independent"}},
          "layer": [
            {"mark": {"type": "line", "strokeWidth": 0.7, "color": "#555", "strokeDash": [2, 1.5]},
             "encoding": {
               "x": {"field": "x", "type": "quantitative", "scale": {"domain": [-0.053, 1.05], "nice": false, "zero": false}, "axis": {"orient": "top", "values": [0, 0.4, 0.8, 1], "labels": false, "title": null, "tickSize": -10}},
               "y": {"field": "s2", "type": "quantitative", "scale": {"type": "log", "domain": [0.00062, 8.9], "nice": false}, "axis": {"orient": "right", "values": [0.001,0.002,0.003,0.004,0.005,0.006,0.007,0.008,0.009,0.01,0.02,0.03,0.04,0.05,0.06,0.07,0.08,0.09,0.1,0.2,0.3,0.4,0.5,0.6,0.7,0.8,0.9,1,2,3,4,5,6,7,8], "labels": false, "title": null, "tickSize": {"condition": {"test": "datum.value === 0.001 || datum.value === 0.01 || datum.value === 0.1 || datum.value === 1", "value": -9}, "value": -5}}}}},
            {"mark": {"type": "line", "strokeWidth": 0.7, "color": "#555", "strokeDash": [2, 1.5]},
             "encoding": {
               "x": {"field": "x", "type": "quantitative", "scale": {"domain": [-0.053, 1.05], "nice": false, "zero": false}, "axis": null},
               "y": {"field": "s3", "type": "quantitative", "scale": {"type": "log", "domain": [0.00062, 8.9], "nice": false}, "axis": null}}},
            {"transform": [{"fold": ["s1", "s2", "s3"], "as": ["key", "v"]}],
             "mark": {"type": "point", "filled": true, "stroke": "#111", "strokeWidth": 0.6, "opacity": 1},
             "encoding": {
               "x": {"field": "x", "type": "quantitative", "scale": {"domain": [-0.053, 1.05], "nice": false, "zero": false},
                     "axis": {"orient": "bottom", "values": [0, 0.2, 0.4, 0.6, 0.8, 1], "tickSize": -10,
                              "tickOpacity": {"condition": {"test": "datum.value === 0.2 || datum.value === 0.6", "value": 0}, "value": 1},
                              "labelExpr": "replace(format(datum.value, '.1f'), '.', ',')", "labelFont": "DejaVu Sans", "labelFontSize": 23, "labelFontWeight": "bold", "labelColor": "#1d1d26", "labelPadding": 24, "labelFlush": false, "labelOverlap": false,
                              "title": "A/A₀", "titleFont": "DejaVu Sans", "titleFontSize": 30, "titleFontWeight": "bold", "titleColor": "#1d1d26", "titlePadding": -5}},
               "y": {"field": "v", "type": "quantitative", "scale": {"type": "log", "domain": [0.00062, 8.9], "nice": false},
                     "axis": {"orient": "left", "values": [0.001,0.002,0.003,0.004,0.005,0.006,0.007,0.008,0.009,0.01,0.02,0.03,0.04,0.05,0.06,0.07,0.08,0.09,0.1,0.2,0.3,0.4,0.5,0.6,0.7,0.8,0.9,1,2,3,4,5,6,7,8],
                              "tickSize": {"condition": {"test": "datum.value === 0.001 || datum.value === 0.01 || datum.value === 0.1 || datum.value === 1", "value": -9}, "value": -5},
                              "labels": false, "title": null}},
               "shape": {"field": "key", "type": "nominal", "scale": {"domain": ["s1", "s2", "s3", "s0"], "range": ["circle", "circle", "triangle-down", "circle"]}, "legend": null},
               "fill": {"field": "key", "type": "nominal", "scale": {"domain": ["s1", "s2", "s3"], "range": ["#111111", "#ffffff", "#1a1a24"]},
                        "legend": {"orient": "none", "legendX": 601, "legendY": 373, "title": null, "padding": 0,
                                   "labelExpr": "datum.label === 's1' ? 'γ= 8 MeV' : datum.label === 's2' ? 'γ=16 MeV' : 'γ=25 MeV'",
                                   "labelFont": "DejaVu Sans", "labelFontSize": 22, "labelFontWeight": "bold", "labelColor": "#1d1d26", "labelOffset": 42,
                                   "rowPadding": 11, "symbolSize": 36,
                                   "encoding": {"symbols": {
                                     "shape": {"condition": [{"test": "datum.value === 's1'", "value": "M0.9,0A0.9,0.9 0 1,1 -0.9,0A0.9,0.9 0 1,1 0.9,0Z"}, {"test": "datum.value === 's2'", "value": "M-11.3,0H-1M1,0H11.3M1,0A1,1 0 1,1 -1,0A1,1 0 1,1 1,0Z"}], "value": "M-11.5,0H11.5M-1.25,-0.75H1.25L0,0.95Z"},
                                     "stroke": {"value": "#333"}, "strokeWidth": {"value": 0.8}}}}},
               "size": {"condition": [{"test": "datum.key === 's1'", "value": 25}, {"test": "datum.key === 's2'", "value": 50}], "value": 68},
               "order": {"field": "key", "type": "ordinal", "sort": "ascending"}}}
          ]
        }
      ]
    }
  ]
}
